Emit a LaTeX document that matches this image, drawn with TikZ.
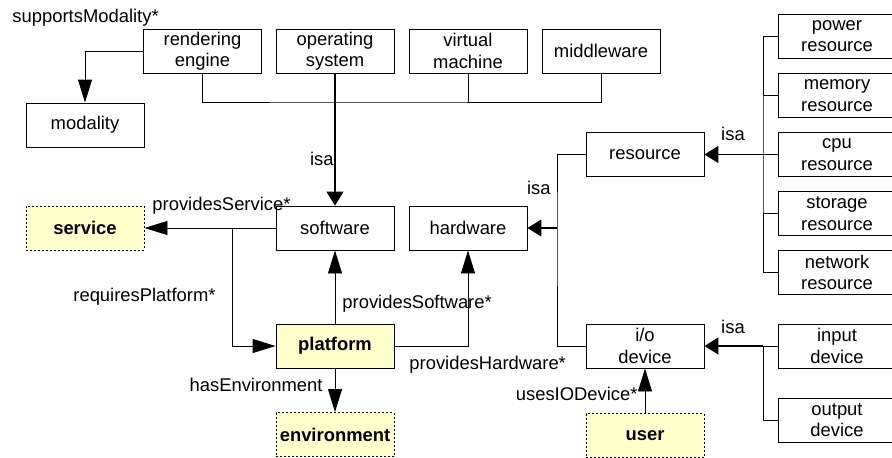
\documentclass[tikz,border=0pt]{standalone}
\usepackage{fontspec}
\setmainfont{Liberation Sans}
\usepackage{tikz}
\usetikzlibrary{arrows.meta}
\definecolor{noteyellow}{HTML}{FFFFCC}

\begin{document}
\begin{tikzpicture}[x=1pt, y=-1pt, line width=0.9pt,
    font=\fontsize{18.4}{21.5}\selectfont,
    cls/.style={draw, rectangle, align=center, inner sep=0pt, minimum width=118pt, minimum height=44pt},
    ext/.style={cls, fill=noteyellow, dash pattern=on 2pt off 2pt, font=\fontsize{18.4}{21.5}\selectfont\bfseries},
    core/.style={cls, fill=noteyellow, font=\fontsize{18.4}{21.5}\selectfont\bfseries},
    lbl/.style={inner sep=0pt},
    rel/.style={-{Triangle[length=23pt,width=14pt]}},
    isa/.style={-{Triangle[length=14pt,width=17pt]}, line width=1.2pt}]
            \clip (0, 0) rectangle (892, 458);
            \draw (202.5, 51) node[cls](re){rendering\\engine};
            \draw (335, 51) node[cls](os){operating\\system};
            \draw (468, 51) node[cls](vm){virtual\\machine};
            \draw (601, 51) node[cls](mw){middleware};
            \draw (85, 125) node[cls](mo){modality};
            \draw (85, 228) node[ext](sv){service};
            \draw (335, 228) node[cls](sw){software};
            \draw (468, 228) node[cls](hw){hardware};
            \draw (335, 346) node[core](pf){platform};
            \draw (335, 434.5) node[ext](en){environment};
            \draw (645, 154.5) node[cls](rs){resource};
            \draw (645, 346) node[cls](io){i/o\\device};
            \draw (645, 435.5) node[ext](us){user};
            \draw (837, 36) node[cls](pw){power\\resource};
            \draw (837, 95.5) node[cls](me){memory\\resource};
            \draw (837, 154.5) node[cls](cp){cpu\\resource};
            \draw (837, 213.5) node[cls](st){storage\\resource};
            \draw (837, 272.5) node[cls](nw){network\\resource};
            \draw (837, 346) node[cls](ip){input\\device};
            \draw (837, 420) node[cls](op){output\\device};
            \coordinate (bus) at (335, 102);
            \coordinate (rp) at (232, 228);
            \coordinate (hj) at (557, 228);
            \coordinate (rj) at (763, 154.5);
            \coordinate (dj) at (763, 346);
            \draw (re.south) |- (bus) -| (mw.south);
            \draw (vm.south) -- (vm.south |- bus);
            \draw[isa] (os.south) -- (sw.north);
            \draw (334, 159) node[lbl, anchor=east](l1){isa};
            \draw[rel] (re.west) -| (mo.north);
            \draw (12, 18) node[lbl, anchor=west](l2){supportsModality*};
            \draw[rel] (sw.west) -- (sv.east);
            \draw (152, 206) node[lbl, anchor=west](l3){providesService*};
            \draw[rel] (rp) |- (pf.west);
            \draw (216, 297) node[lbl, anchor=east](l4){requiresPlatform*};
            \draw[rel] (pf.north) -- (sw.south);
            \draw (342, 304) node[lbl, anchor=west](l5){providesSoftware*};
            \draw[rel] (pf.east) -| (hw.south);
            \draw (409, 365) node[lbl, anchor=west](l6){providesHardware*};
            \draw[rel] (pf.south) -- (en.north);
            \draw (323, 385) node[lbl, anchor=east](l7){hasEnvironment};
            \draw[rel] (us.north) -- (io.south);
            \draw (638, 394) node[lbl, anchor=east](l8){usesIODevice*};
            \draw (rs.west) -| (hj) |- (io.west);
            \draw[isa] (hj) -- (hw.east);
            \draw (551, 188) node[lbl, anchor=east](l9){isa};
            \draw (pw.west) -| (rj) |- (nw.west);
            \draw (me.west) -- (me.west -| rj);
            \draw (st.west) -- (st.west -| rj);
            \draw (cp.west) -- (rj);
            \draw[isa] (rj) -- (rs.east);
            \draw (733, 134) node[lbl](l10){isa};
            \draw (ip.west) -- (dj) |- (op.west);
            \draw[isa] (dj) -- (io.east);
            \draw (733, 327) node[lbl](l11){isa};
        \end{tikzpicture}
\end{document}
